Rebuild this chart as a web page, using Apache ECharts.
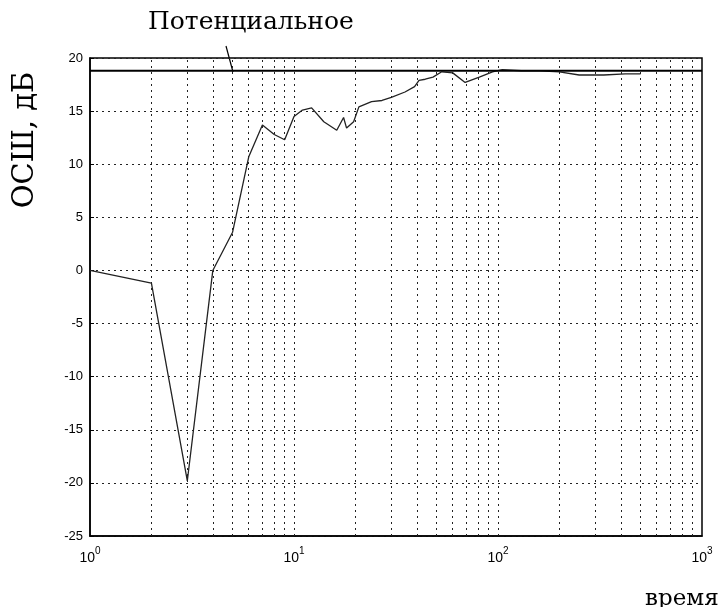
<!DOCTYPE html>
<html>
<head>
<meta charset="utf-8">
<script src="https://cdn.jsdelivr.net/npm/echarts@6/dist/echarts.min.js"></script>
<style>
  html, body { margin: 0; padding: 0; background: #fff; }
  #chart { width: 728px; height: 607px; }
</style>
</head>
<body>
<div id="chart"></div>
<script>
// time points (log scale) and SNR values
const time = [1, 2, 3, 4, 5, 6, 7, 8, 9, 10, 11, 12.2, 14, 16.2, 17.5, 18.1, 19.6, 20.8, 24, 27, 30, 35, 39, 41, 44, 48, 53, 60, 69, 81, 94, 105, 130, 160, 200, 250, 330, 420, 500];
const snr = [0, -1.2, -19.8, 0, 3.6, 10.7, 13.7, 12.8, 12.3, 14.5, 15.1, 15.3, 14.0, 13.2, 14.4, 13.4, 14.0, 15.4, 15.9, 16.0, 16.3, 16.8, 17.3, 17.9, 18.0, 18.2, 18.7, 18.6, 17.7, 18.2, 18.7, 18.9, 18.8, 18.8, 18.7, 18.4, 18.4, 18.5, 18.5];

// potential level
const potentialTime = [1, 1000];
const potentialSnr = [18.8, 18.8];

// vertical grid lines (every log decade subdivision)
const gridTimes = [2, 3, 4, 5, 6, 7, 8, 9, 10, 20, 30, 40, 50, 60, 70, 80, 90, 100, 200, 300, 400, 500, 600, 700, 800, 900];

const chart = echarts.init(document.getElementById('chart'));

const gridDash = { color: '#222', type: [2, 4], width: 1 };

const option = {
  animation: false,
  backgroundColor: '#fff',
  grid: {
    left: 90, right: 26, top: 58, bottom: 71,
    show: true, borderColor: '#000', borderWidth: 1.5
  },
  xAxis: {
    type: 'log',
    logBase: 10,
    min: 1,
    max: 1000,
    splitNumber: 3,
    axisLine: { onZero: false, lineStyle: { color: '#000', width: 1.5 } },
    axisTick: { show: false },
    splitLine: { show: false },
    axisLabel: {
      margin: 10,
      color: '#000',
      formatter: function (v) {
        return '{b|10}{s|' + Math.round(Math.log10(v)) + '}';
      },
      rich: {
        b: { fontFamily: 'Liberation Sans', fontSize: 14, color: '#000', verticalAlign: 'bottom' },
        s: { fontFamily: 'Liberation Sans', fontSize: 10, color: '#000', verticalAlign: 'bottom', padding: [0, 0, 9, 0] }
      }
    }
  },
  yAxis: {
    type: 'value',
    min: -25,
    max: 20,
    interval: 5,
    axisLine: { show: true, onZero: false, lineStyle: { color: '#000', width: 1.5 } },
    axisTick: { show: true, inside: true, length: 4, lineStyle: { color: '#000' } },
    splitLine: { show: true, lineStyle: gridDash },
    axisLabel: { margin: 7, color: '#000', fontFamily: 'Liberation Sans', fontSize: 13 }
  },
  series: [
    {
      name: 'ОСШ',
      type: 'line',
      data: time.map((t, i) => [t, snr[i]]),
      symbol: 'none',
      lineStyle: { color: '#222', width: 1.3 },
      markLine: {
        silent: true,
        symbol: 'none',
        label: { show: false },
        lineStyle: gridDash,
        data: gridTimes.map(t => ({ xAxis: t }))
      }
    },
    {
      name: 'Потенциальное',
      type: 'line',
      data: potentialTime.map((t, i) => [t, potentialSnr[i]]),
      symbol: 'none',
      lineStyle: { color: '#000', width: 2 }
    }
  ],
  graphic: [
    {
      type: 'text',
      left: 148, top: 10,
      style: { text: 'Потенциальное', font: '25px "DejaVu Serif"', fill: '#000' }
    },
    {
      type: 'line',
      shape: { x1: 226, y1: 46, x2: 233, y2: 72 },
      style: { stroke: '#000', lineWidth: 1.2 }
    },
    {
      type: 'text',
      x: 25, y: 140,
      rotation: Math.PI / 2,
      style: { text: 'ОСШ, дБ', font: '29px "DejaVu Serif"', fill: '#000', align: 'center', verticalAlign: 'middle' }
    },
    {
      type: 'text',
      left: 645, top: 588,
      style: { text: 'время', font: '23px "DejaVu Serif"', fill: '#000' }
    }
  ]
};

chart.setOption(option);
</script>
</body>
</html>
